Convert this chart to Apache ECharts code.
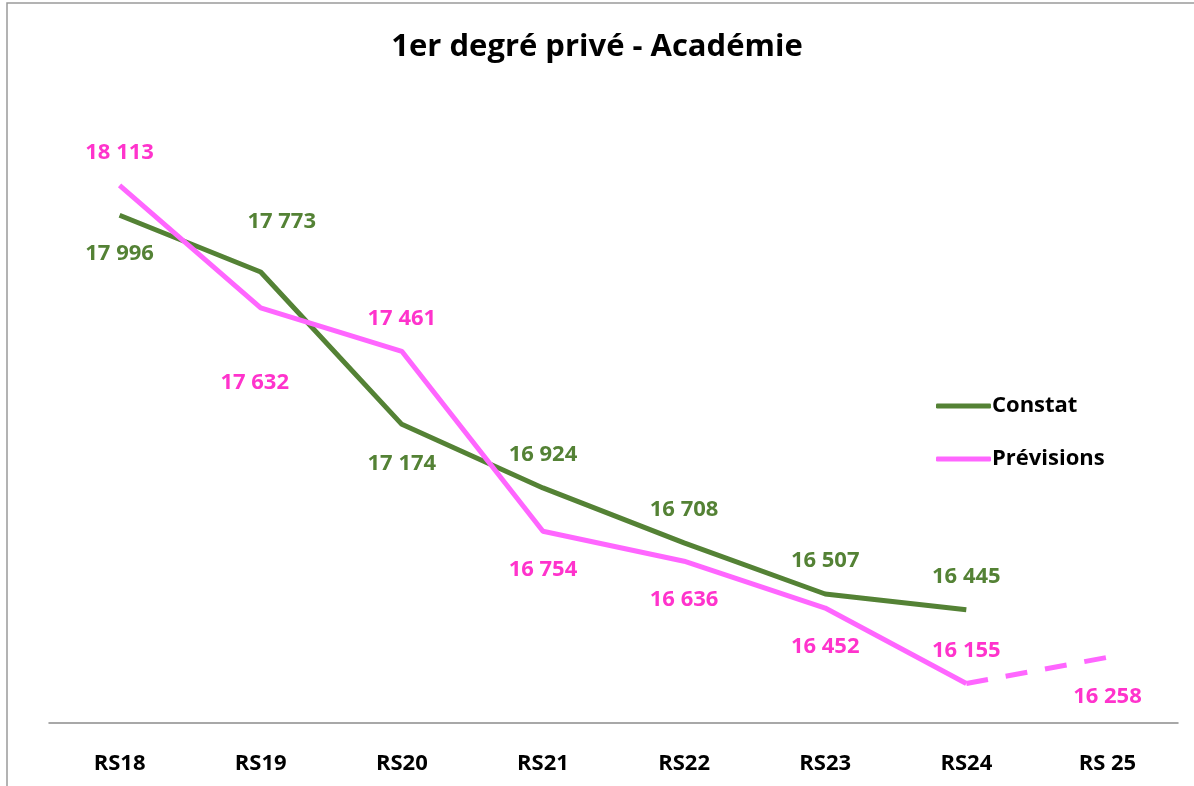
<!DOCTYPE html>
<html>
<head>
<meta charset="utf-8">
<script src="https://cdn.jsdelivr.net/npm/echarts@6/dist/echarts.min.js"></script>
<style>
  html, body { margin: 0; padding: 0; background: #fff; }
  #chart { width: 1194px; height: 786px; }
</style>
</head>
<body>
<div id="chart"></div>
<script>
var categories = ['RS18', 'RS19', 'RS20', 'RS21', 'RS22', 'RS23', 'RS24', 'RS 25'];
var constat = [17996, 17773, 17174, 16924, 16708, 16507, 16445, null];
var previsions = [18113, 17632, 17461, 16754, 16636, 16452, 16155, null];
var previsionsFin = [null, null, null, null, null, null, 16155, 16258];
// label side for each point (top / bottom), as in the picture
var constatPos = ['bottom', 'top', 'bottom', 'top', 'top', 'top', 'top', 'top'];
var previsionsPos = ['top', 'bottom', 'top', 'bottom', 'bottom', 'bottom', 'top', 'bottom'];
// a few labels were moved by hand in the original
var constatShift = { 1: [21, -17] };
var previsionsShift = { 1: [-6, 36] };

var green = '#548235';
var pink = '#FF66FF';
var pinkText = '#FF33CC';
var font = '"Open Sans", "Noto Sans", sans-serif';

function labelFor(pos) {
  return { position: pos, distance: pos === 'top' ? 22 : 28 };
}

function withLabels(values, pos, shift) {
  return values.map(function (v, i) {
    if (v == null) return null;
    var lab = labelFor(pos[i]);
    if (shift[i]) lab.offset = shift[i];
    return { value: v, label: lab };
  });
}

var fmt = function (p) {
  return String(p.value).replace(/\B(?=(\d{3})+(?!\d))/g, ' ');
};

var chart = echarts.init(document.getElementById('chart'));
chart.setOption({
  animation: false,
  title: {
    text: '1er degré privé - Académie',
    left: 'center',
    top: 27,
    textStyle: { fontFamily: font, fontSize: 31, fontWeight: 'bold', color: '#000' }
  },
  graphic: [{
    type: 'rect',
    shape: { x: 7, y: 3, width: 1400, height: 1000 },
    style: { fill: 'none', stroke: '#9a9a9a', lineWidth: 1.5 },
    silent: true
  }],
  legend: {
    data: ['Constat', 'Prévisions'],
    orient: 'vertical',
    left: 931,
    top: 390,
    icon: 'roundRect',
    itemWidth: 55,
    itemHeight: 5,
    itemGap: 31,
    textStyle: { fontFamily: font, fontSize: 22, fontWeight: 'bold', color: '#000', padding: [0, 0, 0, -4] }
  },
  grid: { left: 49, right: 16, top: 87, bottom: 63 },
  xAxis: {
    type: 'category',
    data: categories,
    boundaryGap: true,
    axisLine: { lineStyle: { color: '#8c8c8c', width: 1.5 } },
    axisTick: { show: false },
    axisLabel: { fontFamily: font, fontSize: 22, fontWeight: 'bold', color: '#000', margin: 30 }
  },
  yAxis: {
    type: 'value',
    min: 16000,
    max: 18500,
    show: false,
    splitLine: { show: false }
  },
  series: [
    {
      name: 'Constat',
      type: 'line',
      data: withLabels(constat, constatPos, constatShift),
      symbol: 'circle',
      symbolSize: 0,
      itemStyle: { color: green },
      lineStyle: { color: green, width: 5 },
      label: {
        show: true, formatter: fmt,
        fontFamily: font, fontSize: 22, fontWeight: 'bold', color: green
      }
    },
    {
      name: 'Prévisions',
      type: 'line',
      data: withLabels(previsions, previsionsPos, previsionsShift),
      symbol: 'circle',
      symbolSize: 0,
      itemStyle: { color: pink },
      lineStyle: { color: pink, width: 5 },
      label: {
        show: true, formatter: fmt,
        fontFamily: font, fontSize: 22, fontWeight: 'bold', color: pinkText
      }
    },
    {
      name: 'Prévisions',
      type: 'line',
      data: previsionsFin.map(function (v, i) {
        if (v == null) return null;
        var lab = labelFor(previsionsPos[i]);
        lab.show = i === previsionsFin.length - 1;
        return { value: v, label: lab };
      }),
      symbol: 'circle',
      symbolSize: 0,
      itemStyle: { color: pink },
      lineStyle: { color: pink, width: 5, type: [22, 18] },
      label: {
        formatter: fmt,
        fontFamily: font, fontSize: 22, fontWeight: 'bold', color: pinkText
      }
    }
  ]
});
</script>
</body>
</html>
